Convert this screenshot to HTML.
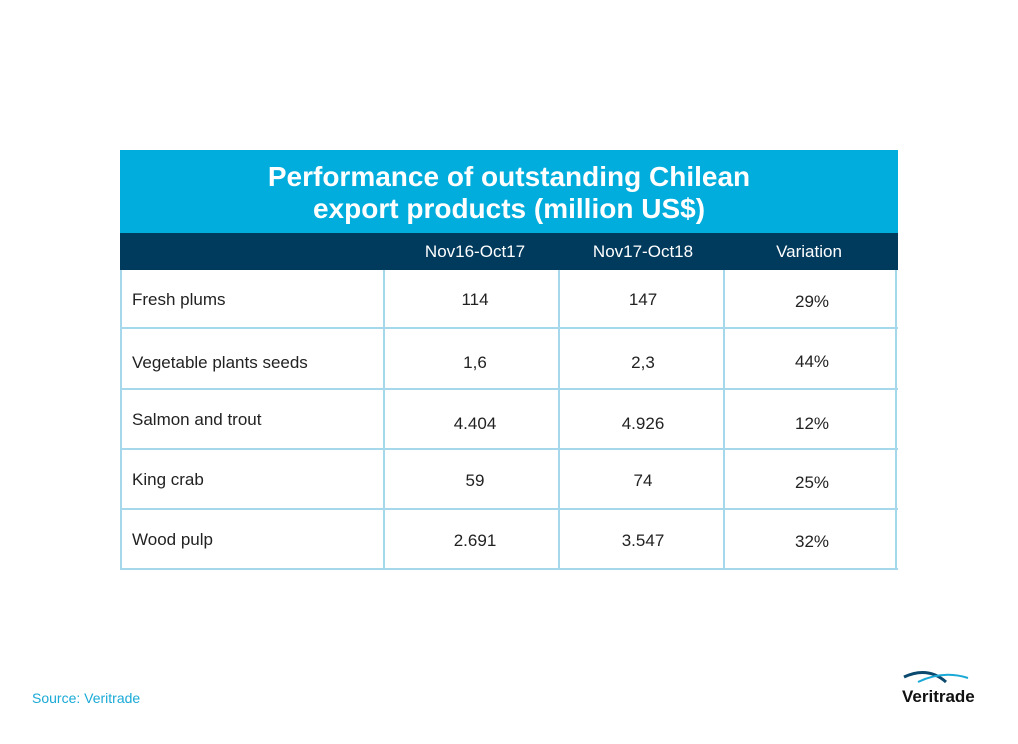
<!DOCTYPE html>
<html><head><meta charset="utf-8"><style>
body{margin:0;width:1018px;height:744px;background:#fff;position:relative;font-family:"Liberation Sans",sans-serif;overflow:hidden}
.a{position:absolute}
.t{position:absolute;font-size:17px;color:#222;transform:translateY(-50%);white-space:nowrap}
.c{transform:translate(-50%,-50%)}
.hl{position:absolute;height:2px;background:#a6d8ec}
.vl{position:absolute;width:2px;background:#a6d8ec}
</style></head><body>
<div class="a" style="left:120px;top:150px;width:778px;height:83px;background:#00addc"></div>
<div class="a" style="left:120px;top:161px;width:778px;text-align:center;color:#fff;font-weight:bold;font-size:28px;line-height:32px">Performance of outstanding Chilean<br>export products (million US$)</div>
<div class="a" style="left:120px;top:233px;width:778px;height:37px;background:#003a5d"></div>
<div class="t c" style="left:475px;top:252px;color:#fff">Nov16-Oct17</div>
<div class="t c" style="left:643px;top:252px;color:#fff">Nov17-Oct18</div>
<div class="t c" style="left:809px;top:252px;color:#fff">Variation</div>

<div class="hl" style="left:120px;top:327px;width:778px"></div>
<div class="hl" style="left:120px;top:388px;width:778px"></div>
<div class="hl" style="left:120px;top:448px;width:778px"></div>
<div class="hl" style="left:120px;top:508px;width:778px"></div>
<div class="hl" style="left:120px;top:568px;width:778px"></div>
<div class="vl" style="left:120px;top:270px;height:300px"></div>
<div class="vl" style="left:383px;top:270px;height:300px"></div>
<div class="vl" style="left:558px;top:270px;height:300px"></div>
<div class="vl" style="left:723px;top:270px;height:300px"></div>
<div class="vl" style="left:895px;top:270px;height:300px"></div>

<div class="t" style="left:132px;top:300px">Fresh plums</div>
<div class="t c" style="left:475px;top:300px">114</div>
<div class="t c" style="left:643px;top:300px">147</div>
<div class="t c" style="left:812px;top:302px">29%</div>

<div class="t" style="left:132px;top:363px">Vegetable plants seeds</div>
<div class="t c" style="left:475px;top:363px">1,6</div>
<div class="t c" style="left:643px;top:363px">2,3</div>
<div class="t c" style="left:812px;top:362px">44%</div>

<div class="t" style="left:132px;top:420px">Salmon and trout</div>
<div class="t c" style="left:475px;top:424px">4.404</div>
<div class="t c" style="left:643px;top:424px">4.926</div>
<div class="t c" style="left:812px;top:424px">12%</div>

<div class="t" style="left:132px;top:480px">King crab</div>
<div class="t c" style="left:475px;top:481px">59</div>
<div class="t c" style="left:643px;top:481px">74</div>
<div class="t c" style="left:812px;top:483px">25%</div>

<div class="t" style="left:132px;top:540px">Wood pulp</div>
<div class="t c" style="left:475px;top:541px">2.691</div>
<div class="t c" style="left:643px;top:541px">3.547</div>
<div class="t c" style="left:812px;top:542px">32%</div>

<div class="t" style="left:32px;top:698px;font-size:14px;color:#1aa9d6">Source: Veritrade</div>
<svg class="a" style="left:898px;top:668px" width="90" height="40">
<path d="M6,9 Q30,-2 48,14" stroke="#0b4a6e" stroke-width="3" fill="none"/>
<path d="M20,14 Q45,2 70,10" stroke="#1aa9d6" stroke-width="2" fill="none"/>
<text x="4" y="34" font-family="Liberation Sans" font-weight="bold" font-size="17" fill="#111">Veritrade</text>
</svg>
</body></html>
